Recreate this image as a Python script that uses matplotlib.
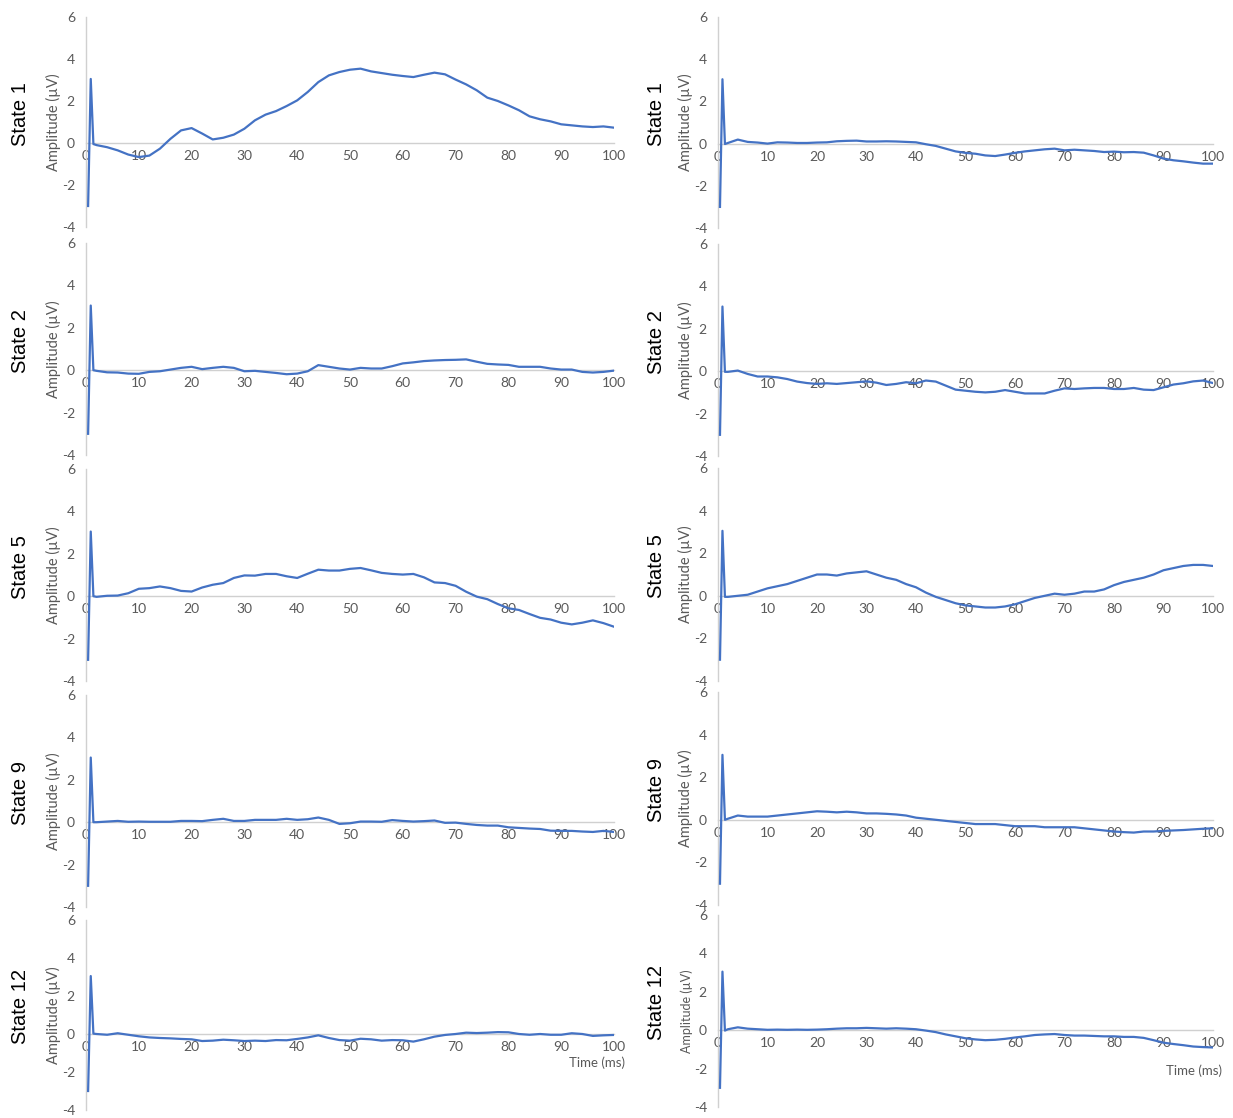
import matplotlib
matplotlib.use("Agg")
import matplotlib.pyplot as plt

plt.rcParams["axes.unicode_minus"] = False

# Sampling grid (ms): stimulus artefact samples, then every 2 ms
TIME_MS = [0.4, 0.9, 1.4] + list(range(2, 101, 2))

X_TICKS = [0, 10, 20, 30, 40, 50, 60, 70, 80, 90, 100]
Y_TICKS = [-4, -2, 0, 2, 4, 6]
STATE_LABELS = ["State 1", "State 2", "State 5", "State 9", "State 12"]

# Averaged responses (µV), left column
left_state1 = [-3.0, 3.05, -0.05,
               -0.10, -0.20, -0.35, -0.55, -0.67, -0.60, -0.27, 0.20, 0.60, 0.71,
               0.45, 0.17, 0.25, 0.40, 0.68, 1.08, 1.35, 1.52, 1.76, 2.03,
               2.43, 2.90, 3.22, 3.38, 3.49, 3.54, 3.41, 3.33, 3.25, 3.19,
               3.14, 3.25, 3.35, 3.27, 3.02, 2.79, 2.51, 2.16, 2.00, 1.79,
               1.56, 1.27, 1.13, 1.03, 0.89, 0.84, 0.79, 0.76, 0.79, 0.73]
left_state2 = [-3.0, 3.05, 0.0,
               -0.03, -0.10, -0.11, -0.16, -0.17, -0.08, -0.05, 0.03, 0.11, 0.16,
               0.05, 0.11, 0.16, 0.11, -0.05, -0.03, -0.08, -0.13, -0.19, -0.16,
               -0.05, 0.24, 0.16, 0.08, 0.03, 0.11, 0.08, 0.08, 0.19, 0.32,
               0.37, 0.43, 0.46, 0.48, 0.49, 0.51, 0.40, 0.30, 0.27, 0.25,
               0.16, 0.16, 0.16, 0.08, 0.03, 0.03, -0.08, -0.11, -0.08, -0.02]
left_state5 = [-3.0, 3.05, 0.0,
               -0.03, 0.02, 0.03, 0.14, 0.35, 0.38, 0.46, 0.38, 0.25, 0.22,
               0.41, 0.54, 0.62, 0.86, 0.98, 0.97, 1.05, 1.05, 0.94, 0.86,
               1.06, 1.25, 1.21, 1.21, 1.29, 1.33, 1.22, 1.10, 1.05, 1.02,
               1.05, 0.89, 0.65, 0.62, 0.49, 0.21, -0.02, -0.14, -0.37, -0.57,
               -0.65, -0.84, -1.02, -1.10, -1.25, -1.33, -1.25, -1.14, -1.27, -1.44]
left_state9 = [-3.0, 3.05, 0.0,
               0.00, 0.03, 0.06, 0.02, 0.03, 0.02, 0.02, 0.02, 0.06, 0.06,
               0.05, 0.11, 0.16, 0.06, 0.06, 0.11, 0.11, 0.11, 0.16, 0.11,
               0.14, 0.22, 0.11, -0.08, -0.05, 0.03, 0.03, 0.02, 0.10, 0.06,
               0.03, 0.05, 0.08, -0.03, -0.02, -0.08, -0.13, -0.16, -0.16, -0.24,
               -0.27, -0.30, -0.32, -0.40, -0.41, -0.41, -0.44, -0.46, -0.41, -0.46]
left_state12 = [-3.0, 3.05, 0.02,
                0.00, -0.04, 0.04, -0.04, -0.12, -0.18, -0.21, -0.23, -0.26, -0.28,
                -0.37, -0.35, -0.30, -0.33, -0.37, -0.35, -0.37, -0.32, -0.33, -0.26,
                -0.18, -0.07, -0.21, -0.32, -0.35, -0.25, -0.28, -0.35, -0.32, -0.33,
                -0.40, -0.28, -0.14, -0.05, 0.00, 0.07, 0.05, 0.07, 0.10, 0.09,
                0.00, -0.04, 0.00, -0.04, -0.04, 0.04, 0.00, -0.10, -0.07, -0.05]

# Averaged responses (µV), right column
right_state1 = [-3.0, 3.05, -0.02,
                0.03, 0.19, 0.08, 0.05, 0.00, 0.06, 0.05, 0.03, 0.03, 0.05,
                0.06, 0.11, 0.13, 0.14, 0.10, 0.10, 0.11, 0.10, 0.08, 0.06,
                -0.03, -0.11, -0.24, -0.37, -0.44, -0.48, -0.56, -0.59, -0.52, -0.44,
                -0.37, -0.32, -0.27, -0.24, -0.32, -0.29, -0.32, -0.35, -0.40, -0.38,
                -0.41, -0.40, -0.43, -0.56, -0.71, -0.79, -0.84, -0.90, -0.95, -0.95]
right_state2 = [-3.0, 3.05, -0.03,
                -0.03, 0.03, -0.13, -0.25, -0.25, -0.29, -0.37, -0.49, -0.56, -0.60,
                -0.57, -0.60, -0.56, -0.52, -0.48, -0.54, -0.65, -0.60, -0.52, -0.57,
                -0.44, -0.49, -0.68, -0.87, -0.92, -0.97, -1.00, -0.97, -0.89, -0.97,
                -1.05, -1.05, -1.05, -0.92, -0.81, -0.84, -0.81, -0.79, -0.79, -0.84,
                -0.84, -0.79, -0.87, -0.89, -0.76, -0.63, -0.57, -0.48, -0.44, -0.56]
right_state5 = [-3.0, 3.05, -0.05,
                -0.05, 0.00, 0.05, 0.20, 0.35, 0.45, 0.55, 0.70, 0.85, 1.00,
                1.00, 0.95, 1.05, 1.10, 1.15, 1.00, 0.85, 0.75, 0.55, 0.40,
                0.15, -0.05, -0.20, -0.35, -0.45, -0.50, -0.55, -0.55, -0.50, -0.40,
                -0.25, -0.10, 0.00, 0.10, 0.05, 0.10, 0.20, 0.20, 0.30, 0.50,
                0.65, 0.75, 0.85, 1.00, 1.20, 1.30, 1.40, 1.45, 1.45, 1.40]
right_state9 = [-3.0, 3.05, 0.0,
                0.05, 0.20, 0.15, 0.15, 0.15, 0.20, 0.25, 0.30, 0.35, 0.40,
                0.38, 0.35, 0.38, 0.35, 0.30, 0.30, 0.28, 0.25, 0.20, 0.10,
                0.05, 0.00, -0.05, -0.10, -0.15, -0.20, -0.20, -0.20, -0.25, -0.30,
                -0.30, -0.30, -0.35, -0.35, -0.35, -0.35, -0.40, -0.45, -0.50, -0.55,
                -0.58, -0.60, -0.55, -0.55, -0.52, -0.50, -0.48, -0.45, -0.42, -0.40]
right_state12 = [-3.0, 3.05, -0.02,
                 0.05, 0.15, 0.08, 0.05, 0.02, 0.03, 0.02, 0.03, 0.02, 0.03,
                 0.05, 0.08, 0.10, 0.10, 0.12, 0.10, 0.08, 0.10, 0.08, 0.05,
                 -0.02, -0.10, -0.22, -0.32, -0.42, -0.48, -0.52, -0.50, -0.45, -0.38,
                 -0.32, -0.25, -0.22, -0.20, -0.25, -0.28, -0.28, -0.30, -0.32, -0.32,
                 -0.35, -0.35, -0.40, -0.52, -0.65, -0.72, -0.78, -0.85, -0.88, -0.90]

LEFT = [left_state1, left_state2, left_state5, left_state9, left_state12]
RIGHT = [right_state1, right_state2, right_state5, right_state9, right_state12]

W, H = 1233, 1118
LINE_BLUE = "#4472C4"
AXIS_GREY = "#D0D0D0"
TEXT_GREY = "#595959"

# Panel boxes in pixels: top (y=6) and bottom (y=-4) edges per row
left_rows = [(17, 227), (243, 455), (469, 681), (695, 907), (920, 1110)]
right_rows = [(17, 228), (244, 456), (468, 681), (692, 905), (915, 1107)]
left_x = (86, 614)
right_x = (718, 1213)

fig = plt.figure(figsize=(W / 100, H / 100), dpi=100)
fig.patch.set_facecolor("white")

TICK_FONT = ["Lato", "DejaVu Sans"]
STATE_FONT = ["Liberation Sans", "DejaVu Sans"]


def draw_panel(xr, yr, series, state, last_row, label_size, ylab_x, state_x, time_xy):
    x0, x1 = xr
    y0, y1 = yr
    ax = fig.add_axes([x0 / W, 1 - y1 / H, (x1 - x0) / W, (y1 - y0) / H])
    ax.plot(TIME_MS, series, color=LINE_BLUE, lw=1.6, solid_joinstyle="round", zorder=3)
    ax.set_xlim(0, 100)
    ax.set_ylim(-4, 6)
    ax.set_xticks(X_TICKS)
    ax.set_yticks(Y_TICKS)
    ax.set_facecolor("none")
    for side in ("top", "right"):
        ax.spines[side].set_visible(False)
    ax.spines["bottom"].set_position(("data", 0))
    ax.spines["bottom"].set_color(AXIS_GREY)
    ax.spines["left"].set_color(AXIS_GREY)
    ax.spines["bottom"].set_linewidth(1.0)
    ax.spines["left"].set_linewidth(1.0)
    ax.tick_params(axis="both", length=0, colors=TEXT_GREY, labelsize=10)
    ax.tick_params(axis="x", pad=5)
    ax.tick_params(axis="y", pad=8)
    for lab in ax.get_xticklabels() + ax.get_yticklabels():
        lab.set_fontfamily(TICK_FONT)
    ax.set_ylabel("Amplitude (µV)", fontsize=label_size, color=TEXT_GREY,
                  family=TICK_FONT)
    ax.yaxis.set_label_coords(ylab_x, 0.5)
    cy = (y0 + y1) / 2 - 8
    fig.text(state_x / W, 1 - cy / H, state, rotation=90, ha="center", va="center",
             fontsize=14.5, color="black", family=STATE_FONT)
    if last_row:
        ax.text(time_xy[0], time_xy[1], "Time (ms)", transform=ax.transAxes,
                ha="right", va="center", fontsize=9.5, color=TEXT_GREY,
                family=TICK_FONT)
    return ax


for i in range(5):
    draw_panel(left_x, left_rows[i], LEFT[i], STATE_LABELS[i], i == 4, 10.5,
               -0.048, 20, (1.02, 0.25))
    draw_panel(right_x, right_rows[i], RIGHT[i], STATE_LABELS[i], i == 4,
               9 if i == 4 else 10.5, -0.05, 656, (1.018, 0.19))

fig.savefig("out.png", dpi=100, facecolor="white")
